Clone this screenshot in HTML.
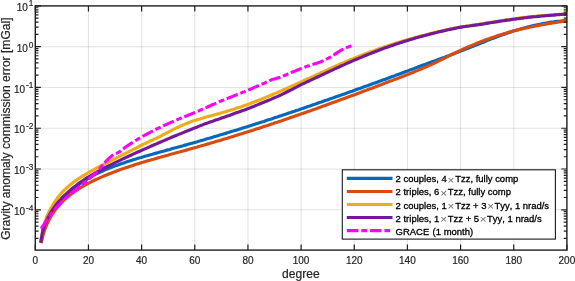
<!DOCTYPE html>
<html><head><meta charset="utf-8"><title>Gravity anomaly commission error</title>
<style>html,body{margin:0;padding:0;background:#fff}svg{display:block}text{font-family:"Liberation Sans",Arial,sans-serif;fill:#262626;font-kerning:none;stroke:#262626;stroke-width:0.2px}</style></head><body>
<svg width="575" height="281" viewBox="0 0 575 281">
<rect width="575" height="281" fill="#fff"/>
<path d="M88.46,5.9 V250.1 M141.62,5.9 V250.1 M194.78,5.9 V250.1 M247.94,5.9 V250.1 M301.10,5.9 V250.1 M354.26,5.9 V250.1 M407.42,5.9 V250.1 M460.58,5.9 V250.1 M513.74,5.9 V250.1" stroke="#262626" stroke-opacity="0.13" stroke-width="1.1" fill="none"/>
<path d="M35.3,46.68 H566.9 M35.3,87.46 H566.9 M35.3,128.24 H566.9 M35.3,169.02 H566.9 M35.3,209.80 H566.9" stroke="#262626" stroke-opacity="0.13" stroke-width="1.1" fill="none"/>
<path d="M40.8,243.1 L41.3,240.3 L41.8,237.8 L42.3,235.6 L42.7,233.6 L43.2,231.8 L43.7,230.1 L44.2,228.6 L44.7,227.1 L45.2,225.8 L45.7,224.5 L46.2,223.4 L46.6,222.3 L47.1,221.2 L47.6,220.2 L48.1,219.2 L48.6,218.3 L49.1,217.4 L49.6,216.6 L50.0,215.7 L50.5,214.9 L51.0,214.0 L51.5,213.2 L52.0,212.5 L52.5,211.7 L53.0,210.9 L53.5,210.2 L53.9,209.5 L54.4,208.8 L54.9,208.1 L55.4,207.5 L55.9,206.8 L56.4,206.2 L56.9,205.6 L57.3,205.0 L57.8,204.4 L58.3,203.8 L58.8,203.2 L59.3,202.6 L59.8,202.0 L60.3,201.5 L60.8,200.9 L61.2,200.4 L61.7,199.9 L62.2,199.4 L62.7,198.8 L63.2,198.3 L63.7,197.8 L64.2,197.3 L64.6,196.8 L65.1,196.4 L65.6,195.9 L66.1,195.4 L66.6,194.9 L67.1,194.5 L67.6,194.0 L68.1,193.6 L68.5,193.1 L69.0,192.7 L69.5,192.2 L70.0,191.8 L71.9,190.1 L73.8,188.5 L75.8,187.0 L77.7,185.5 L79.6,184.1 L81.5,182.8 L83.4,181.5 L85.4,180.2 L87.3,179.0 L89.2,177.9 L91.1,176.8 L93.0,175.7 L94.9,174.7 L96.9,173.7 L98.8,172.8 L100.7,171.9 L102.6,171.0 L104.5,170.1 L106.5,169.3 L108.4,168.5 L110.3,167.8 L112.2,167.0 L114.1,166.3 L116.1,165.6 L118.0,164.9 L119.9,164.2 L121.8,163.5 L123.7,162.9 L125.6,162.2 L127.6,161.6 L129.5,161.0 L131.4,160.4 L133.3,159.8 L135.2,159.2 L137.2,158.6 L139.1,158.0 L141.0,157.5 L142.9,156.9 L144.8,156.3 L146.8,155.8 L148.7,155.2 L150.6,154.7 L152.5,154.2 L154.4,153.6 L156.4,153.1 L158.3,152.6 L160.2,152.0 L162.1,151.5 L164.0,151.0 L165.9,150.4 L167.9,149.9 L169.8,149.4 L171.7,148.8 L173.6,148.3 L175.5,147.8 L177.5,147.3 L179.4,146.7 L181.3,146.2 L183.2,145.7 L185.1,145.1 L187.1,144.6 L189.0,144.0 L190.9,143.5 L192.8,143.0 L194.7,142.4 L196.6,141.9 L198.6,141.3 L200.5,140.8 L202.4,140.2 L204.3,139.7 L206.2,139.1 L208.2,138.5 L210.1,138.0 L212.0,137.4 L213.9,136.8 L215.8,136.3 L217.8,135.7 L219.7,135.1 L221.6,134.6 L223.5,134.0 L225.4,133.4 L227.4,132.8 L229.3,132.2 L231.2,131.6 L233.1,131.1 L235.0,130.5 L236.9,129.9 L238.9,129.3 L240.8,128.7 L242.7,128.1 L244.6,127.5 L246.5,126.9 L248.5,126.3 L250.4,125.7 L252.3,125.1 L254.2,124.4 L256.1,123.8 L258.1,123.2 L260.0,122.6 L261.9,122.0 L263.8,121.4 L265.7,120.7 L267.6,120.1 L269.6,119.5 L271.5,118.9 L273.4,118.2 L275.3,117.6 L277.2,117.0 L279.2,116.3 L281.1,115.7 L283.0,115.1 L284.9,114.4 L286.8,113.8 L288.8,113.1 L290.7,112.5 L292.6,111.8 L294.5,111.2 L296.4,110.5 L298.4,109.9 L300.3,109.2 L302.2,108.6 L304.1,107.9 L306.0,107.3 L307.9,106.6 L309.9,106.0 L311.8,105.3 L313.7,104.6 L315.6,104.0 L317.5,103.3 L319.5,102.6 L321.4,102.0 L323.3,101.3 L325.2,100.6 L327.1,100.0 L329.1,99.3 L331.0,98.6 L332.9,98.0 L334.8,97.3 L336.7,96.6 L338.6,95.9 L340.6,95.2 L342.5,94.6 L344.4,93.9 L346.3,93.2 L348.2,92.5 L350.2,91.8 L352.1,91.2 L354.0,90.5 L355.9,89.8 L357.8,89.1 L359.8,88.4 L361.7,87.7 L363.6,87.0 L365.5,86.3 L367.4,85.7 L369.4,85.0 L371.3,84.3 L373.2,83.6 L375.1,82.9 L377.0,82.2 L378.9,81.5 L380.9,80.8 L382.8,80.1 L384.7,79.4 L386.6,78.7 L388.5,78.0 L390.5,77.3 L392.4,76.6 L394.3,75.9 L396.2,75.1 L398.1,74.4 L400.1,73.7 L402.0,73.0 L403.9,72.3 L405.8,71.6 L407.7,70.9 L409.6,70.1 L411.6,69.4 L413.5,68.7 L415.4,68.0 L417.3,67.3 L419.2,66.5 L421.2,65.8 L423.1,65.1 L425.0,64.4 L426.9,63.7 L428.8,63.0 L430.8,62.3 L432.7,61.6 L434.6,60.9 L436.5,60.2 L438.4,59.5 L440.4,58.8 L442.3,58.1 L444.2,57.4 L446.1,56.6 L448.0,55.9 L449.9,55.2 L451.9,54.5 L453.8,53.7 L455.7,53.0 L457.6,52.3 L459.5,51.5 L461.5,50.8 L463.4,50.1 L465.3,49.3 L467.2,48.6 L469.1,47.9 L471.1,47.1 L473.0,46.3 L474.9,45.5 L476.8,44.8 L478.7,44.0 L480.6,43.2 L482.6,42.5 L484.5,41.7 L486.4,40.9 L488.3,40.1 L490.2,39.4 L492.2,38.6 L494.1,37.9 L496.0,37.2 L497.9,36.4 L499.8,35.7 L501.8,35.1 L503.7,34.4 L505.6,33.7 L507.5,33.0 L509.4,32.4 L511.4,31.8 L513.3,31.1 L515.2,30.5 L517.1,30.0 L519.0,29.4 L520.9,28.8 L522.9,28.3 L524.8,27.8 L526.7,27.3 L528.6,26.8 L530.5,26.3 L532.5,25.8 L534.4,25.4 L536.3,25.0 L538.2,24.6 L540.1,24.2 L542.1,23.8 L544.0,23.4 L545.9,23.1 L547.8,22.7 L549.7,22.4 L551.6,22.1 L553.6,21.9 L555.5,21.6 L557.4,21.4 L559.3,21.2 L561.2,21.0 L563.2,20.8 L565.1,20.6 L567.0,20.5" stroke="#0069BE" stroke-width="3.15" fill="none" stroke-linejoin="round"/>
<path d="M41.3,243.0 L41.8,240.6 L42.3,238.5 L42.7,236.6 L43.2,234.8 L43.7,233.1 L44.2,231.6 L44.6,230.1 L45.1,228.8 L45.6,227.5 L46.1,226.3 L46.6,225.1 L47.0,224.0 L47.5,223.0 L48.0,222.0 L48.5,221.0 L49.0,220.1 L49.4,219.2 L49.9,218.3 L50.4,217.5 L50.9,216.6 L51.3,215.8 L51.8,215.0 L52.3,214.2 L52.8,213.5 L53.3,212.8 L53.7,212.0 L54.2,211.4 L54.7,210.7 L55.2,210.0 L55.6,209.4 L56.1,208.8 L56.6,208.2 L57.1,207.6 L57.6,207.0 L58.0,206.4 L58.5,205.8 L59.0,205.3 L59.5,204.8 L60.0,204.2 L60.4,203.7 L60.9,203.2 L61.4,202.7 L61.9,202.2 L62.3,201.7 L62.8,201.3 L63.3,200.8 L63.8,200.3 L64.3,199.9 L64.7,199.5 L65.2,199.0 L65.7,198.6 L66.2,198.2 L66.7,197.8 L67.1,197.3 L67.6,196.9 L68.1,196.5 L68.6,196.2 L69.0,195.8 L69.5,195.4 L70.0,195.0 L71.9,193.5 L73.8,192.2 L75.8,190.8 L77.7,189.6 L79.6,188.3 L81.5,187.2 L83.4,186.0 L85.4,185.0 L87.3,183.9 L89.2,182.9 L91.1,181.9 L93.0,181.0 L94.9,180.0 L96.9,179.1 L98.8,178.3 L100.7,177.4 L102.6,176.6 L104.5,175.8 L106.5,175.0 L108.4,174.2 L110.3,173.4 L112.2,172.7 L114.1,171.9 L116.1,171.2 L118.0,170.5 L119.9,169.8 L121.8,169.1 L123.7,168.5 L125.6,167.8 L127.6,167.2 L129.5,166.5 L131.4,165.9 L133.3,165.3 L135.2,164.6 L137.2,164.0 L139.1,163.4 L141.0,162.8 L142.9,162.3 L144.8,161.7 L146.8,161.1 L148.7,160.5 L150.6,160.0 L152.5,159.4 L154.4,158.9 L156.4,158.4 L158.3,157.8 L160.2,157.3 L162.1,156.7 L164.0,156.2 L165.9,155.7 L167.9,155.2 L169.8,154.6 L171.7,154.1 L173.6,153.6 L175.5,153.0 L177.5,152.5 L179.4,152.0 L181.3,151.4 L183.2,150.9 L185.1,150.4 L187.1,149.9 L189.0,149.3 L190.9,148.8 L192.8,148.2 L194.7,147.7 L196.6,147.2 L198.6,146.6 L200.5,146.1 L202.4,145.5 L204.3,145.0 L206.2,144.4 L208.2,143.9 L210.1,143.3 L212.0,142.7 L213.9,142.2 L215.8,141.6 L217.8,141.0 L219.7,140.5 L221.6,139.9 L223.5,139.3 L225.4,138.7 L227.4,138.2 L229.3,137.6 L231.2,137.0 L233.1,136.4 L235.0,135.8 L236.9,135.2 L238.9,134.6 L240.8,134.0 L242.7,133.4 L244.6,132.8 L246.5,132.2 L248.5,131.6 L250.4,131.0 L252.3,130.4 L254.2,129.8 L256.1,129.1 L258.1,128.5 L260.0,127.9 L261.9,127.3 L263.8,126.6 L265.7,126.0 L267.6,125.4 L269.6,124.7 L271.5,124.1 L273.4,123.5 L275.3,122.8 L277.2,122.2 L279.2,121.5 L281.1,120.9 L283.0,120.2 L284.9,119.6 L286.8,118.9 L288.8,118.3 L290.7,117.6 L292.6,116.9 L294.5,116.3 L296.4,115.6 L298.4,114.9 L300.3,114.3 L302.2,113.6 L304.1,112.9 L306.0,112.3 L307.9,111.6 L309.9,110.9 L311.8,110.2 L313.7,109.5 L315.6,108.9 L317.5,108.2 L319.5,107.5 L321.4,106.8 L323.3,106.1 L325.2,105.4 L327.1,104.7 L329.1,104.0 L331.0,103.3 L332.9,102.6 L334.8,101.9 L336.7,101.2 L338.6,100.5 L340.6,99.8 L342.5,99.1 L344.4,98.4 L346.3,97.7 L348.2,97.0 L350.2,96.3 L352.1,95.6 L354.0,94.9 L355.9,94.2 L357.8,93.4 L359.8,92.7 L361.7,92.0 L363.6,91.3 L365.5,90.6 L367.4,89.8 L369.4,89.1 L371.3,88.4 L373.2,87.7 L375.1,87.0 L377.0,86.2 L378.9,85.5 L380.9,84.8 L382.8,84.0 L384.7,83.3 L386.6,82.6 L388.5,81.8 L390.5,81.1 L392.4,80.4 L394.3,79.6 L396.2,78.9 L398.1,78.2 L400.1,77.4 L402.0,76.7 L403.9,75.9 L405.8,75.2 L407.7,74.5 L409.6,73.7 L411.6,72.9 L413.5,72.2 L415.4,71.4 L417.3,70.6 L419.2,69.8 L421.2,69.0 L423.1,68.1 L425.0,67.3 L426.9,66.5 L428.8,65.6 L430.8,64.8 L432.7,63.9 L434.6,63.0 L436.5,62.1 L438.4,61.2 L440.4,60.2 L442.3,59.3 L444.2,58.3 L446.1,57.4 L448.0,56.4 L449.9,55.4 L451.9,54.5 L453.8,53.5 L455.7,52.6 L457.6,51.7 L459.5,50.8 L461.5,49.9 L463.4,49.0 L465.3,48.2 L467.2,47.3 L469.1,46.5 L471.1,45.7 L473.0,44.9 L474.9,44.1 L476.8,43.3 L478.7,42.6 L480.6,41.8 L482.6,41.1 L484.5,40.3 L486.4,39.6 L488.3,38.9 L490.2,38.2 L492.2,37.5 L494.1,36.9 L496.0,36.2 L497.9,35.6 L499.8,35.0 L501.8,34.4 L503.7,33.8 L505.6,33.2 L507.5,32.7 L509.4,32.1 L511.4,31.6 L513.3,31.1 L515.2,30.6 L517.1,30.1 L519.0,29.6 L520.9,29.2 L522.9,28.7 L524.8,28.3 L526.7,27.9 L528.6,27.4 L530.5,27.0 L532.5,26.6 L534.4,26.2 L536.3,25.9 L538.2,25.5 L540.1,25.1 L542.1,24.8 L544.0,24.4 L545.9,24.1 L547.8,23.7 L549.7,23.4 L551.6,23.1 L553.6,22.8 L555.5,22.5 L557.4,22.2 L559.3,21.9 L561.2,21.6 L563.2,21.3 L565.1,21.1 L567.0,20.8" stroke="#DA4B12" stroke-width="3.15" fill="none" stroke-linejoin="round"/>
<path d="M40.8,242.0 L41.3,238.4 L41.8,235.3 L42.3,232.6 L42.7,230.1 L43.2,227.9 L43.7,225.9 L44.2,224.1 L44.7,222.5 L45.2,221.0 L45.7,219.6 L46.2,218.3 L46.6,217.1 L47.1,216.0 L47.6,214.9 L48.1,213.9 L48.6,212.8 L49.1,211.8 L49.6,210.8 L50.0,209.9 L50.5,208.9 L51.0,208.0 L51.5,207.1 L52.0,206.3 L52.5,205.4 L53.0,204.6 L53.5,203.9 L53.9,203.1 L54.4,202.3 L54.9,201.6 L55.4,200.9 L55.9,200.2 L56.4,199.5 L56.9,198.8 L57.3,198.1 L57.8,197.5 L58.3,196.8 L58.8,196.2 L59.3,195.6 L59.8,195.0 L60.3,194.4 L60.8,193.8 L61.2,193.3 L61.7,192.7 L62.2,192.2 L62.7,191.7 L63.2,191.2 L63.7,190.7 L64.2,190.2 L64.6,189.7 L65.1,189.3 L65.6,188.8 L66.1,188.4 L66.6,187.9 L67.1,187.5 L67.6,187.1 L68.1,186.6 L68.5,186.2 L69.0,185.8 L69.5,185.4 L70.0,185.0 L71.9,183.5 L73.8,182.0 L75.8,180.6 L77.7,179.3 L79.6,178.0 L81.5,176.7 L83.4,175.6 L85.4,174.4 L87.3,173.3 L89.2,172.2 L91.1,171.1 L93.0,170.1 L94.9,169.0 L96.9,168.0 L98.8,167.0 L100.7,166.0 L102.6,165.0 L104.5,164.0 L106.5,163.0 L108.4,162.0 L110.3,161.1 L112.2,160.1 L114.1,159.1 L116.1,158.1 L118.0,157.2 L119.9,156.2 L121.8,155.2 L123.7,154.3 L125.6,153.3 L127.6,152.3 L129.5,151.4 L131.4,150.4 L133.3,149.4 L135.2,148.5 L137.2,147.5 L139.1,146.5 L141.0,145.5 L142.9,144.5 L144.8,143.6 L146.8,142.7 L148.7,141.8 L150.6,140.9 L152.5,140.0 L154.4,139.1 L156.4,138.2 L158.3,137.3 L160.2,136.4 L162.1,135.4 L164.0,134.3 L165.9,133.3 L167.9,132.3 L169.8,131.3 L171.7,130.3 L173.6,129.4 L175.5,128.4 L177.5,127.5 L179.4,126.6 L181.3,125.7 L183.2,124.9 L185.1,124.1 L187.1,123.3 L189.0,122.5 L190.9,121.8 L192.8,121.1 L194.7,120.5 L196.6,119.9 L198.6,119.3 L200.5,118.7 L202.4,118.2 L204.3,117.6 L206.2,117.1 L208.2,116.5 L210.1,116.0 L212.0,115.5 L213.9,114.9 L215.8,114.4 L217.8,113.9 L219.7,113.4 L221.6,112.8 L223.5,112.3 L225.4,111.7 L227.4,111.1 L229.3,110.6 L231.2,110.0 L233.1,109.4 L235.0,108.8 L236.9,108.1 L238.9,107.5 L240.8,106.9 L242.7,106.2 L244.6,105.5 L246.5,104.9 L248.5,104.2 L250.4,103.5 L252.3,102.7 L254.2,102.0 L256.1,101.3 L258.1,100.5 L260.0,99.8 L261.9,99.0 L263.8,98.2 L265.7,97.4 L267.6,96.6 L269.6,95.8 L271.5,95.0 L273.4,94.2 L275.3,93.4 L277.2,92.6 L279.2,91.7 L281.1,90.9 L283.0,90.0 L284.9,89.2 L286.8,88.3 L288.8,87.5 L290.7,86.6 L292.6,85.7 L294.5,84.9 L296.4,84.0 L298.4,83.1 L300.3,82.3 L302.2,81.4 L304.1,80.5 L306.0,79.6 L307.9,78.7 L309.9,77.9 L311.8,77.0 L313.7,76.1 L315.6,75.2 L317.5,74.3 L319.5,73.4 L321.4,72.5 L323.3,71.7 L325.2,70.8 L327.1,69.9 L329.1,69.0 L331.0,68.2 L332.9,67.3 L334.8,66.5 L336.7,65.6 L338.6,64.8 L340.6,63.9 L342.5,63.1 L344.4,62.3 L346.3,61.5 L348.2,60.6 L350.2,59.8 L352.1,59.1 L354.0,58.3 L355.9,57.5 L357.8,56.7 L359.8,56.0 L361.7,55.2 L363.6,54.5 L365.5,53.7 L367.4,53.0 L369.4,52.3 L371.3,51.6 L373.2,50.9 L375.1,50.2 L377.0,49.5 L378.9,48.8 L380.9,48.1 L382.8,47.5 L384.7,46.8 L386.6,46.2 L388.5,45.5 L390.5,44.9 L392.4,44.3 L394.3,43.7 L396.2,43.1 L398.1,42.5 L400.1,41.9 L402.0,41.3 L403.9,40.7 L405.8,40.2 L407.7,39.6 L409.6,39.1 L411.6,38.5 L413.5,38.0 L415.4,37.4 L417.3,36.9 L419.2,36.4 L421.2,35.9 L423.1,35.4 L425.0,34.9 L426.9,34.4 L428.8,33.9 L430.8,33.5 L432.7,33.0 L434.6,32.5 L436.5,32.1 L438.4,31.6 L440.4,31.2 L442.3,30.8 L444.2,30.3 L446.1,29.9 L448.0,29.5 L449.9,29.1 L451.9,28.7 L453.8,28.3 L455.7,27.9 L457.6,27.5 L459.5,27.2 L461.5,26.8 L463.4,26.5 L465.3,26.3 L467.2,26.0 L469.1,25.7 L471.1,25.4 L473.0,25.2 L474.9,24.9 L476.8,24.7 L478.7,24.4 L480.6,24.1 L482.6,23.8 L484.5,23.4 L486.4,23.1 L488.3,22.8 L490.2,22.5 L492.2,22.1 L494.1,21.8 L496.0,21.5 L497.9,21.2 L499.8,20.9 L501.8,20.6 L503.7,20.3 L505.6,20.0 L507.5,19.7 L509.4,19.5 L511.4,19.2 L513.3,18.9 L515.2,18.6 L517.1,18.4 L519.0,18.1 L520.9,17.9 L522.9,17.6 L524.8,17.4 L526.7,17.2 L528.6,16.9 L530.5,16.7 L532.5,16.5 L534.4,16.3 L536.3,16.2 L538.2,16.0 L540.1,15.8 L542.1,15.6 L544.0,15.5 L545.9,15.3 L547.8,15.2 L549.7,15.0 L551.6,14.9 L553.6,14.8 L555.5,14.6 L557.4,14.5 L559.3,14.4 L561.2,14.3 L563.2,14.1 L565.1,14.0 L567.0,13.9" stroke="#EEAD18" stroke-width="3.15" fill="none" stroke-linejoin="round"/>
<path d="M40.8,242.5 L41.3,239.0 L41.8,236.2 L42.3,233.7 L42.7,231.5 L43.2,229.7 L43.7,228.0 L44.2,226.4 L44.7,225.0 L45.2,223.7 L45.7,222.5 L46.2,221.3 L46.6,220.2 L47.1,219.2 L47.6,218.2 L48.1,217.3 L48.6,216.4 L49.1,215.5 L49.6,214.6 L50.0,213.8 L50.5,213.0 L51.0,212.2 L51.5,211.4 L52.0,210.7 L52.5,209.9 L53.0,209.2 L53.5,208.5 L53.9,207.8 L54.4,207.1 L54.9,206.4 L55.4,205.7 L55.9,205.1 L56.4,204.4 L56.9,203.8 L57.3,203.2 L57.8,202.6 L58.3,202.0 L58.8,201.4 L59.3,200.9 L59.8,200.3 L60.3,199.8 L60.8,199.2 L61.2,198.7 L61.7,198.2 L62.2,197.7 L62.7,197.2 L63.2,196.7 L63.7,196.2 L64.2,195.8 L64.6,195.3 L65.1,194.8 L65.6,194.4 L66.1,193.9 L66.6,193.5 L67.1,193.1 L67.6,192.6 L68.1,192.2 L68.5,191.8 L69.0,191.3 L69.5,190.9 L70.0,190.4 L71.9,188.8 L73.8,187.2 L75.8,185.7 L77.7,184.2 L79.6,182.8 L81.5,181.5 L83.4,180.2 L85.4,178.9 L87.3,177.7 L89.2,176.5 L91.1,175.4 L93.0,174.3 L94.9,173.2 L96.9,172.1 L98.8,171.1 L100.7,170.0 L102.6,169.0 L104.5,168.0 L106.5,167.0 L108.4,166.0 L110.3,165.1 L112.2,164.1 L114.1,163.2 L116.1,162.2 L118.0,161.3 L119.9,160.4 L121.8,159.4 L123.7,158.5 L125.6,157.6 L127.6,156.7 L129.5,155.8 L131.4,155.0 L133.3,154.1 L135.2,153.2 L137.2,152.3 L139.1,151.5 L141.0,150.6 L142.9,149.8 L144.8,148.9 L146.8,148.1 L148.7,147.2 L150.6,146.4 L152.5,145.5 L154.4,144.7 L156.4,143.9 L158.3,143.0 L160.2,142.2 L162.1,141.4 L164.0,140.6 L165.9,139.8 L167.9,138.9 L169.8,138.1 L171.7,137.3 L173.6,136.5 L175.5,135.7 L177.5,134.9 L179.4,134.1 L181.3,133.4 L183.2,132.6 L185.1,131.8 L187.1,131.0 L189.0,130.2 L190.9,129.5 L192.8,128.7 L194.7,127.9 L196.6,127.2 L198.6,126.4 L200.5,125.6 L202.4,124.9 L204.3,124.1 L206.2,123.4 L208.2,122.8 L210.1,122.1 L212.0,121.4 L213.9,120.8 L215.8,120.1 L217.8,119.4 L219.7,118.8 L221.6,118.1 L223.5,117.4 L225.4,116.7 L227.4,116.0 L229.3,115.4 L231.2,114.7 L233.1,114.0 L235.0,113.3 L236.9,112.6 L238.9,111.9 L240.8,111.2 L242.7,110.5 L244.6,109.9 L246.5,109.2 L248.5,108.4 L250.4,107.7 L252.3,106.9 L254.2,106.2 L256.1,105.4 L258.1,104.6 L260.0,103.8 L261.9,103.0 L263.8,102.3 L265.7,101.5 L267.6,100.7 L269.6,99.9 L271.5,99.1 L273.4,98.2 L275.3,97.4 L277.2,96.6 L279.2,95.8 L281.1,94.9 L283.0,93.9 L284.9,93.0 L286.8,92.0 L288.8,91.0 L290.7,90.1 L292.6,89.1 L294.5,88.1 L296.4,87.1 L298.4,86.1 L300.3,85.1 L302.2,84.2 L304.1,83.3 L306.0,82.4 L307.9,81.5 L309.9,80.6 L311.8,79.7 L313.7,78.8 L315.6,77.9 L317.5,77.0 L319.5,76.1 L321.4,75.2 L323.3,74.3 L325.2,73.4 L327.1,72.5 L329.1,71.6 L331.0,70.7 L332.9,69.8 L334.8,68.9 L336.7,68.0 L338.6,67.2 L340.6,66.3 L342.5,65.4 L344.4,64.6 L346.3,63.7 L348.2,62.8 L350.2,62.0 L352.1,61.1 L354.0,60.3 L355.9,59.5 L357.8,58.7 L359.8,57.9 L361.7,57.1 L363.6,56.3 L365.5,55.5 L367.4,54.7 L369.4,53.9 L371.3,53.2 L373.2,52.4 L375.1,51.7 L377.0,51.0 L378.9,50.2 L380.9,49.5 L382.8,48.8 L384.7,48.1 L386.6,47.4 L388.5,46.8 L390.5,46.1 L392.4,45.4 L394.3,44.8 L396.2,44.1 L398.1,43.5 L400.1,42.8 L402.0,42.2 L403.9,41.6 L405.8,41.0 L407.7,40.4 L409.6,39.8 L411.6,39.2 L413.5,38.7 L415.4,38.1 L417.3,37.6 L419.2,37.0 L421.2,36.5 L423.1,35.9 L425.0,35.4 L426.9,34.9 L428.8,34.4 L430.8,33.9 L432.7,33.4 L434.6,32.9 L436.5,32.5 L438.4,32.0 L440.4,31.5 L442.3,31.1 L444.2,30.7 L446.1,30.2 L448.0,29.8 L449.9,29.4 L451.9,29.0 L453.8,28.6 L455.7,28.2 L457.6,27.8 L459.5,27.4 L461.5,27.1 L463.4,26.8 L465.3,26.5 L467.2,26.2 L469.1,26.0 L471.1,25.7 L473.0,25.4 L474.9,25.2 L476.8,24.9 L478.7,24.7 L480.6,24.4 L482.6,24.1 L484.5,23.8 L486.4,23.4 L488.3,23.1 L490.2,22.8 L492.2,22.5 L494.1,22.2 L496.0,21.9 L497.9,21.6 L499.8,21.3 L501.8,21.0 L503.7,20.7 L505.6,20.4 L507.5,20.1 L509.4,19.9 L511.4,19.6 L513.3,19.3 L515.2,19.1 L517.1,18.8 L519.0,18.6 L520.9,18.3 L522.9,18.1 L524.8,17.8 L526.7,17.6 L528.6,17.3 L530.5,17.1 L532.5,16.9 L534.4,16.7 L536.3,16.6 L538.2,16.4 L540.1,16.2 L542.1,16.0 L544.0,15.9 L545.9,15.7 L547.8,15.5 L549.7,15.4 L551.6,15.2 L553.6,15.1 L555.5,14.9 L557.4,14.8 L559.3,14.6 L561.2,14.5 L563.2,14.3 L565.1,14.2 L567.0,14.1" stroke="#75199B" stroke-width="3.15" fill="none" stroke-linejoin="round"/>
<path d="M40.8,228.5 L41.3,228.1 L41.8,227.6 L42.3,227.0 L42.7,226.3 L43.2,225.6 L43.7,224.8 L44.2,224.1 L44.7,223.3 L45.2,222.5 L45.7,221.8 L46.2,221.0 L46.6,220.3 L47.1,219.6 L47.6,218.9 L48.1,218.2 L48.6,217.5 L49.1,216.8 L49.6,216.1 L50.0,215.5 L50.5,214.8 L51.0,214.1 L51.5,213.4 L52.0,212.8 L52.5,212.1 L53.0,211.5 L53.5,210.9 L53.9,210.3 L54.4,209.7 L54.9,209.1 L55.4,208.5 L55.9,208.0 L56.4,207.4 L56.9,206.9 L57.3,206.3 L57.8,205.8 L58.3,205.3 L58.8,204.8 L59.3,204.3 L59.8,203.8 L60.3,203.3 L60.8,202.8 L61.2,202.3 L61.7,201.9 L62.2,201.4 L62.7,201.0 L63.2,200.5 L63.7,200.1 L64.2,199.6 L64.6,199.2 L65.1,198.7 L65.6,198.3 L66.1,197.9 L66.6,197.4 L67.1,197.0 L67.6,196.6 L68.1,196.2 L68.5,195.7 L69.0,195.3 L69.5,194.9 L70.0,194.5 L71.1,193.5 L72.2,192.6 L73.3,191.7 L74.4,190.7 L75.5,189.8 L76.5,188.9 L77.6,188.0 L78.7,187.1 L79.8,186.3 L80.9,185.4 L82.0,184.5 L83.1,183.7 L84.2,182.8 L85.3,181.9 L86.4,181.1 L87.5,180.2 L88.5,179.3 L89.6,178.3 L90.7,177.4 L91.8,176.4 L92.9,175.5 L94.0,174.5 L95.1,173.5 L96.2,172.5 L97.3,171.3 L98.4,170.1 L99.5,168.9 L100.6,167.6 L101.6,166.3 L102.7,165.1 L103.8,163.8 L104.9,162.5 L106.0,161.3 L107.1,160.2 L108.2,159.1 L109.3,158.0 L110.4,157.1 L111.5,156.2 L112.6,155.3 L113.6,154.6 L114.7,154.0 L115.8,153.5 L116.9,153.1 L118.0,152.6 L119.1,152.0 L120.2,151.2 L121.3,150.3 L122.4,149.5 L123.5,148.7 L124.6,147.8 L125.6,147.1 L126.7,146.3 L127.8,145.6 L128.9,144.8 L130.0,144.1 L131.1,143.4 L132.2,142.7 L133.3,142.0 L134.4,141.3 L135.5,140.6 L136.6,140.0 L137.6,139.3 L138.7,138.6 L139.8,138.0 L140.9,137.4 L142.0,136.7 L143.1,136.1 L144.2,135.5 L145.3,134.9 L146.4,134.3 L147.5,133.7 L148.6,133.1 L149.7,132.6 L150.7,132.0 L151.8,131.4 L152.9,130.9 L154.0,130.3 L155.1,129.8 L156.2,129.2 L157.3,128.7 L158.4,128.2 L159.5,127.7 L160.6,127.1 L161.7,126.6 L162.7,126.1 L163.8,125.6 L164.9,125.1 L166.0,124.6 L167.1,124.1 L168.2,123.6 L169.3,123.1 L170.4,122.6 L171.5,122.1 L172.6,121.7 L173.7,121.2 L174.7,120.7 L175.8,120.3 L176.9,119.8 L178.0,119.3 L179.1,118.9 L180.2,118.4 L181.3,118.0 L182.4,117.5 L183.5,117.1 L184.6,116.6 L185.7,116.2 L186.7,115.8 L187.8,115.3 L188.9,114.9 L190.0,114.5 L191.1,114.0 L192.2,113.6 L193.3,113.2 L194.4,112.7 L195.5,112.3 L196.6,111.8 L197.7,111.3 L198.8,110.8 L199.8,110.3 L200.9,109.9 L202.0,109.4 L203.1,108.9 L204.2,108.4 L205.3,107.9 L206.4,107.4 L207.5,107.0 L208.6,106.5 L209.7,106.0 L210.8,105.5 L211.8,105.0 L212.9,104.5 L214.0,104.1 L215.1,103.6 L216.2,103.1 L217.3,102.6 L218.4,102.1 L219.5,101.6 L220.6,101.1 L221.7,100.7 L222.8,100.3 L223.8,99.9 L224.9,99.4 L226.0,99.0 L227.1,98.6 L228.2,98.1 L229.3,97.7 L230.4,97.3 L231.5,96.8 L232.6,96.4 L233.7,95.9 L234.8,95.5 L235.9,95.1 L236.9,94.6 L238.0,94.2 L239.1,93.8 L240.2,93.3 L241.3,92.9 L242.4,92.4 L243.5,92.0 L244.6,91.6 L245.7,91.1 L246.8,90.7 L247.9,90.2 L248.9,89.8 L250.0,89.3 L251.1,88.8 L252.2,88.3 L253.3,87.9 L254.4,87.4 L255.5,86.9 L256.6,86.5 L257.7,86.0 L258.8,85.5 L259.9,85.0 L260.9,84.6 L262.0,84.1 L263.1,83.6 L264.2,83.2 L265.3,82.7 L266.4,82.1 L267.5,81.6 L268.6,81.1 L269.7,80.6 L270.8,80.1 L271.9,79.5 L272.9,79.2 L274.0,79.0 L275.1,78.7 L276.2,78.4 L277.3,78.1 L278.4,77.8 L279.5,77.6 L280.6,77.2 L281.7,76.7 L282.8,76.2 L283.9,75.7 L285.0,75.3 L286.0,74.8 L287.1,74.3 L288.2,73.8 L289.3,73.4 L290.4,72.9 L291.5,72.4 L292.6,72.0 L293.7,71.5 L294.8,71.1 L295.9,70.6 L297.0,70.2 L298.0,69.8 L299.1,69.3 L300.2,68.9 L301.3,68.5 L302.4,68.0 L303.5,67.6 L304.6,67.2 L305.7,66.8 L306.8,66.4 L307.9,66.0 L309.0,65.7 L310.0,65.3 L311.1,65.0 L312.2,64.6 L313.3,64.3 L314.4,63.9 L315.5,63.6 L316.6,63.2 L317.7,62.9 L318.8,62.5 L319.9,62.1 L321.0,61.7 L322.0,61.3 L323.1,60.9 L324.2,60.4 L325.3,59.8 L326.4,59.2 L327.5,58.7 L328.6,58.1 L329.7,57.4 L330.8,56.8 L331.9,56.1 L333.0,55.5 L334.1,54.8 L335.1,54.1 L336.2,53.4 L337.3,52.6 L338.4,51.9 L339.5,51.2 L340.6,50.5 L341.7,50.0 L342.8,49.4 L343.9,48.9 L345.0,48.4 L346.1,47.9 L347.1,47.4 L348.2,47.0 L349.3,46.6 L350.4,46.3 L351.5,46.0 L352.6,45.7" stroke="#FF00FF" stroke-width="3.1" fill="none" stroke-linejoin="round" stroke-dasharray="11.8 2.8 5.8 2.7" stroke-dashoffset="0"/>
<path d="M35.30,250.1 v-5.5 M35.30,5.9 v5.5 M88.46,250.1 v-5.5 M88.46,5.9 v5.5 M141.62,250.1 v-5.5 M141.62,5.9 v5.5 M194.78,250.1 v-5.5 M194.78,5.9 v5.5 M247.94,250.1 v-5.5 M247.94,5.9 v5.5 M301.10,250.1 v-5.5 M301.10,5.9 v5.5 M354.26,250.1 v-5.5 M354.26,5.9 v5.5 M407.42,250.1 v-5.5 M407.42,5.9 v5.5 M460.58,250.1 v-5.5 M460.58,5.9 v5.5 M513.74,250.1 v-5.5 M513.74,5.9 v5.5 M566.90,250.1 v-5.5 M566.90,5.9 v5.5 M35.3,5.90 h5.6 M566.9,5.90 h-5.6 M35.3,46.68 h5.6 M566.9,46.68 h-5.6 M35.3,34.40 h3.2 M566.9,34.40 h-3.2 M35.3,27.22 h3.2 M566.9,27.22 h-3.2 M35.3,22.13 h3.2 M566.9,22.13 h-3.2 M35.3,18.18 h3.2 M566.9,18.18 h-3.2 M35.3,14.95 h3.2 M566.9,14.95 h-3.2 M35.3,12.22 h3.2 M566.9,12.22 h-3.2 M35.3,9.85 h3.2 M566.9,9.85 h-3.2 M35.3,7.77 h3.2 M566.9,7.77 h-3.2 M35.3,87.46 h5.6 M566.9,87.46 h-5.6 M35.3,75.18 h3.2 M566.9,75.18 h-3.2 M35.3,68.00 h3.2 M566.9,68.00 h-3.2 M35.3,62.91 h3.2 M566.9,62.91 h-3.2 M35.3,58.96 h3.2 M566.9,58.96 h-3.2 M35.3,55.73 h3.2 M566.9,55.73 h-3.2 M35.3,53.00 h3.2 M566.9,53.00 h-3.2 M35.3,50.63 h3.2 M566.9,50.63 h-3.2 M35.3,48.55 h3.2 M566.9,48.55 h-3.2 M35.3,128.24 h5.6 M566.9,128.24 h-5.6 M35.3,115.96 h3.2 M566.9,115.96 h-3.2 M35.3,108.78 h3.2 M566.9,108.78 h-3.2 M35.3,103.69 h3.2 M566.9,103.69 h-3.2 M35.3,99.74 h3.2 M566.9,99.74 h-3.2 M35.3,96.51 h3.2 M566.9,96.51 h-3.2 M35.3,93.78 h3.2 M566.9,93.78 h-3.2 M35.3,91.41 h3.2 M566.9,91.41 h-3.2 M35.3,89.33 h3.2 M566.9,89.33 h-3.2 M35.3,169.02 h5.6 M566.9,169.02 h-5.6 M35.3,156.74 h3.2 M566.9,156.74 h-3.2 M35.3,149.56 h3.2 M566.9,149.56 h-3.2 M35.3,144.47 h3.2 M566.9,144.47 h-3.2 M35.3,140.52 h3.2 M566.9,140.52 h-3.2 M35.3,137.29 h3.2 M566.9,137.29 h-3.2 M35.3,134.56 h3.2 M566.9,134.56 h-3.2 M35.3,132.19 h3.2 M566.9,132.19 h-3.2 M35.3,130.11 h3.2 M566.9,130.11 h-3.2 M35.3,209.80 h5.6 M566.9,209.80 h-5.6 M35.3,197.52 h3.2 M566.9,197.52 h-3.2 M35.3,190.34 h3.2 M566.9,190.34 h-3.2 M35.3,185.25 h3.2 M566.9,185.25 h-3.2 M35.3,181.30 h3.2 M566.9,181.30 h-3.2 M35.3,178.07 h3.2 M566.9,178.07 h-3.2 M35.3,175.34 h3.2 M566.9,175.34 h-3.2 M35.3,172.97 h3.2 M566.9,172.97 h-3.2 M35.3,170.89 h3.2 M566.9,170.89 h-3.2 M35.3,238.30 h3.2 M566.9,238.30 h-3.2 M35.3,231.12 h3.2 M566.9,231.12 h-3.2 M35.3,226.03 h3.2 M566.9,226.03 h-3.2 M35.3,222.08 h3.2 M566.9,222.08 h-3.2 M35.3,218.85 h3.2 M566.9,218.85 h-3.2 M35.3,216.12 h3.2 M566.9,216.12 h-3.2 M35.3,213.75 h3.2 M566.9,213.75 h-3.2 M35.3,211.67 h3.2 M566.9,211.67 h-3.2" stroke="#1f1f1f" stroke-width="1.2" fill="none"/>
<rect x="35.3" y="5.9" width="531.60" height="244.20" fill="none" stroke="#1f1f1f" stroke-width="1.4"/>
<text x="35.30" y="263.5" font-size="10" text-anchor="middle">0</text>
<text x="88.46" y="263.5" font-size="10" text-anchor="middle">20</text>
<text x="141.62" y="263.5" font-size="10" text-anchor="middle">40</text>
<text x="194.78" y="263.5" font-size="10" text-anchor="middle">60</text>
<text x="247.94" y="263.5" font-size="10" text-anchor="middle">80</text>
<text x="301.10" y="263.5" font-size="10" text-anchor="middle">100</text>
<text x="354.26" y="263.5" font-size="10" text-anchor="middle">120</text>
<text x="407.42" y="263.5" font-size="10" text-anchor="middle">140</text>
<text x="460.58" y="263.5" font-size="10" text-anchor="middle">160</text>
<text x="513.74" y="263.5" font-size="10" text-anchor="middle">180</text>
<text x="566.90" y="263.5" font-size="10" text-anchor="middle">200</text>
<text x="27.79" y="11.35" font-size="10" text-anchor="end">10</text>
<text x="33.4" y="6.00" font-size="8.3" text-anchor="end">1</text>
<text x="27.79" y="51.88" font-size="10" text-anchor="end">10</text>
<text x="33.4" y="47.58" font-size="8.3" text-anchor="end">0</text>
<text x="25.02" y="92.66" font-size="10" text-anchor="end">10</text>
<text x="33.4" y="88.36" font-size="8.3" text-anchor="end">-1</text>
<text x="25.02" y="133.44" font-size="10" text-anchor="end">10</text>
<text x="33.4" y="129.14" font-size="8.3" text-anchor="end">-2</text>
<text x="25.02" y="174.22" font-size="10" text-anchor="end">10</text>
<text x="33.4" y="169.92" font-size="8.3" text-anchor="end">-3</text>
<text x="25.02" y="215.00" font-size="10" text-anchor="end">10</text>
<text x="33.4" y="210.70" font-size="8.3" text-anchor="end">-4</text>
<text x="300.9" y="278.4" font-size="12.1" text-anchor="middle">degree</text>
<text transform="translate(10,128.6) rotate(-90)" font-size="12.1" text-anchor="middle">Gravity anomaly commission error [mGal]</text>
<rect x="342.3" y="169.8" width="213.1" height="69.3" fill="#fff" stroke="#1a1a1a" stroke-width="1.1"/>
<path d="M346.8,178.40 H392.5" stroke="#0069BE" stroke-width="3.1"/>
<text font-size="9.47" style="fill:#000;stroke:#000;stroke-width:0.3px"><tspan x="395.60" y="182.40">2 couples, 4</tspan><tspan x="451.01" y="183.90" text-anchor="middle" font-size="11.6" style="fill:#6a6a6a;stroke:none">×</tspan><tspan x="455.16" y="182.40">Tzz, fully comp</tspan></text>
<path d="M346.8,191.45 H392.5" stroke="#DA4B12" stroke-width="3.1"/>
<text font-size="9.47" style="fill:#000;stroke:#000;stroke-width:0.3px"><tspan x="395.60" y="195.45">2 triples, 6</tspan><tspan x="443.64" y="196.95" text-anchor="middle" font-size="11.6" style="fill:#6a6a6a;stroke:none">×</tspan><tspan x="447.79" y="195.45">Tzz, fully comp</tspan></text>
<path d="M346.8,204.50 H392.5" stroke="#EEAD18" stroke-width="3.1"/>
<text font-size="9.47" style="fill:#000;stroke:#000;stroke-width:0.3px"><tspan x="395.60" y="208.50">2 couples, 1</tspan><tspan x="451.01" y="210.00" text-anchor="middle" font-size="11.6" style="fill:#6a6a6a;stroke:none">×</tspan><tspan x="455.16" y="208.50">Tzz + 3</tspan><tspan x="490.53" y="210.00" text-anchor="middle" font-size="11.6" style="fill:#6a6a6a;stroke:none">×</tspan><tspan x="494.38" y="208.50">Tyy, 1 nrad/s</tspan></text>
<path d="M346.8,217.55 H392.5" stroke="#75199B" stroke-width="3.1"/>
<text font-size="9.47" style="fill:#000;stroke:#000;stroke-width:0.3px"><tspan x="395.60" y="221.55">2 triples, 1</tspan><tspan x="443.64" y="223.05" text-anchor="middle" font-size="11.6" style="fill:#6a6a6a;stroke:none">×</tspan><tspan x="447.79" y="221.55">Tzz + 5</tspan><tspan x="483.15" y="223.05" text-anchor="middle" font-size="11.6" style="fill:#6a6a6a;stroke:none">×</tspan><tspan x="487.00" y="221.55">Tyy, 1 nrad/s</tspan></text>
<path d="M346.8,230.60 H392.5" stroke="#FF00FF" stroke-width="3.1" stroke-dasharray="11.6 2.9 5.7 2.9"/>
<text font-size="9.47" style="fill:#000;stroke:#000;stroke-width:0.3px"><tspan x="395.60" y="234.60">GRACE</tspan><tspan x="429.97" y="234.60"> (1 month)</tspan></text>
</svg></body></html>
